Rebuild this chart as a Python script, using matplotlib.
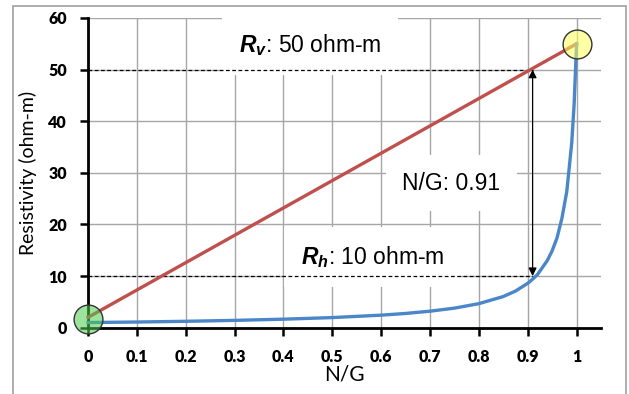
import matplotlib
matplotlib.use("Agg")
import matplotlib.pyplot as plt
from matplotlib.patches import Rectangle

plt.rcParams["mathtext.fontset"] = "custom"
plt.rcParams["mathtext.rm"] = "Liberation Sans"
plt.rcParams["mathtext.it"] = "Liberation Sans:italic"
plt.rcParams["mathtext.bf"] = "Liberation Sans:bold"
plt.rcParams["mathtext.bfit"] = "Liberation Sans:italic:bold"

# Data
ng_blue = [0.0, 0.1, 0.2, 0.3, 0.4, 0.5, 0.6, 0.65, 0.7, 0.75, 0.8, 0.85, 0.875, 0.9, 0.91,
           0.92, 0.94, 0.95, 0.96, 0.97, 0.98, 0.99, 0.995, 1.0]
rh_blue = [1.0, 1.1, 1.24, 1.42, 1.65, 1.96, 2.43, 2.76, 3.2, 3.79, 4.66, 6.04, 7.1, 8.6, 9.4,
           10.3, 13.0, 14.9, 17.4, 21.2, 26.4, 35.7, 43.3, 55.0]
ng_red = [0.0, 1.0]
rv_red = [2.0, 55.0]
ng_cut = 0.91
rv_val = 50
rh_val = 10
green_pt = (0.0, 1.6)
yellow_pt = (1.0, 55.0)
xticks = [0, 0.1, 0.2, 0.3, 0.4, 0.5, 0.6, 0.7, 0.8, 0.9, 1]
xticklabels = ["0", "0.1", "0.2", "0.3", "0.4", "0.5", "0.6", "0.7", "0.8", "0.9", "1"]
yticks = [0, 10, 20, 30, 40, 50, 60]

W, H = 629, 394
fig = plt.figure(figsize=(W / 100, H / 100), dpi=100)
ax = fig.add_axes([88 / W, 1 - 327.7 / H, (601 - 88) / W, (327.7 - 18) / H])

# outer frame
fig.patches.append(Rectangle((13 / W, -0.05), (626 - 13) / W, (394 - 6) / H + 0.05,
                             transform=fig.transFigure, fill=False, edgecolor="#a0a0a0",
                             linewidth=1.2))

ax.set_xlim(0, 1.05)
ax.set_ylim(0, 60)
ax.set_xticks(xticks)
ax.set_xticklabels(xticklabels)
ax.set_yticks(yticks)
ax.grid(True, color="#a6a6a6", linewidth=1.0)
ax.set_axisbelow(True)
for s in ["top", "right"]:
    ax.spines[s].set_visible(False)
for s in ["left", "bottom"]:
    ax.spines[s].set_linewidth(2.0)
    ax.spines[s].set_color("black")
ax.tick_params(axis="both", direction="out", length=6, width=1.8, color="black")
ax.tick_params(axis="x", pad=9)
ax.tick_params(axis="y", pad=9)
for lbl in ax.get_xticklabels() + ax.get_yticklabels():
    lbl.set_fontfamily("Lato")
    lbl.set_fontweight("heavy")
    lbl.set_fontsize(11.5)

ax.set_xlabel("N/G", fontfamily="Lato", fontsize=15, labelpad=0)
ax.set_ylabel("Resistivity (ohm-m)", fontfamily="Lato", fontsize=14, labelpad=8)

# text boxes
box = dict(facecolor="white", edgecolor="none", pad=12)
ax.text(0.455, 54.8, r"$\mathbfit{R_v}$: 50 ohm-m", ha="center", va="center",
        fontsize=16.5, fontfamily="Liberation Sans", bbox=box, zorder=4)
ax.text(0.583, 13.7, r"$\mathbfit{R_h}$: 10 ohm-m", ha="center", va="center",
        fontsize=16.5, fontfamily="Liberation Sans", bbox=box, zorder=4)
ax.text(0.744, 28.0, "N/G: 0.91", ha="center", va="center",
        fontsize=16.5, fontfamily="Liberation Sans", bbox=box, zorder=4)

# dashed reference lines
ax.plot([0, ng_cut], [rv_val, rv_val], color="black", linestyle=(0, (3, 2)), linewidth=0.9, zorder=6)
ax.plot([0, ng_cut], [rh_val, rh_val], color="black", linestyle=(0, (3, 2)), linewidth=0.9, zorder=6)

# curves
ax.plot(ng_red, rv_red, color="#c0504d", linewidth=2.4, zorder=6, clip_on=False)
ax.plot(ng_blue, rh_blue, color="#4a86c8", linewidth=2.4, zorder=6, clip_on=False)

# double arrow
ax.annotate("", xy=(ng_cut, rv_val), xytext=(ng_cut, rh_val),
            arrowprops=dict(arrowstyle="<|-|>", color="black", lw=0.9,
                            mutation_scale=12, shrinkA=0, shrinkB=0), zorder=7)

# circles
ax.scatter([yellow_pt[0]], [yellow_pt[1]], s=430, facecolor=(1.0, 1.0, 0.35, 0.55),
           edgecolor="#333333", linewidth=1.0, zorder=8, clip_on=False)
ax.scatter([green_pt[0]], [green_pt[1]], s=430, facecolor=(0.3, 0.8, 0.3, 0.55),
           edgecolor="#333333", linewidth=1.0, zorder=8, clip_on=False)

fig.savefig("out.png", dpi=100)
